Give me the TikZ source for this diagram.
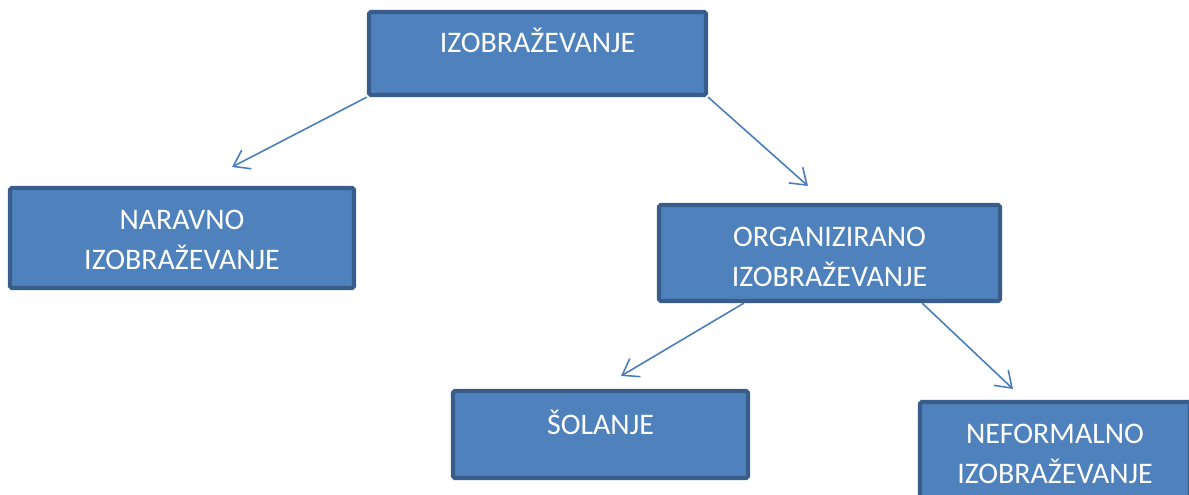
\documentclass[tikz,border=0pt]{standalone}
\usepackage{fontspec}
\setmainfont{Carlito}
\usetikzlibrary{arrows.meta,calc}
\definecolor{boxfill}{HTML}{4F81BD}
\definecolor{boxline}{HTML}{385D8A}
\definecolor{linkblue}{HTML}{4A7EBB}
\tikzset{
  box/.style={draw=boxline,line width=2.4pt,fill=boxfill,rounded corners=1pt,inner sep=0pt},
  boxtext/.style={text=white,font=\fontsize{17}{22.8}\selectfont,align=center,anchor=north,inner sep=0pt},
  link/.style={draw=linkblue,line width=0.9pt,-{Straight Barb[length=0.3cm,width=0.42cm]}}
}
\begin{document}
\begin{tikzpicture}
\useasboundingbox (0,0) rectangle (23.78,-9.90);

% boxes
\node[box,minimum width=6.74cm,minimum height=1.66cm] (izo) at (10.75,-1.07) {};
\node[box,minimum width=6.88cm,minimum height=2.00cm] (nar) at (3.64,-4.76) {};
\node[box,minimum width=6.82cm,minimum height=1.92cm] (org) at (16.59,-5.06) {};
\node[box,minimum width=5.90cm,minimum height=1.74cm] (sol) at (12.01,-8.69) {};
\node[box,minimum width=5.40cm,minimum height=1.92cm] (nef) at (21.10,-9.00) {};

% texts
\node[boxtext] (izot) at ([yshift=-0.36cm]izo.north) {IZOBRAŽEVANJE};
\node[boxtext] (nart) at ([yshift=-0.48cm]nar.north) {NARAVNO\\IZOBRAŽEVANJE};
\node[boxtext] (orgt) at ([yshift=-0.48cm]org.north) {ORGANIZIRANO\\IZOBRAŽEVANJE};
\node[boxtext] (solt) at ([yshift=-0.42cm]sol.north) {ŠOLANJE};
\node[boxtext] (neft) at ([yshift=-0.48cm]nef.north) {NEFORMALNO\\IZOBRAŽEVANJE};

% free arrow ends
\coordinate (narend) at (4.64,-3.34);
\coordinate (orgend) at (16.16,-3.72);
\coordinate (solend) at (12.42,-7.52);
\coordinate (nefend) at (20.26,-7.78);

\draw[link] (izo.south west) -- (narend);
\draw[link] (izo.south east) -- (orgend);
\draw[link] ($(org.south west)+(1.74,0)$) -- (solend);
\draw[link] ($(org.south east)+(-1.60,0)$) -- (nefend);
\end{tikzpicture}
\end{document}
